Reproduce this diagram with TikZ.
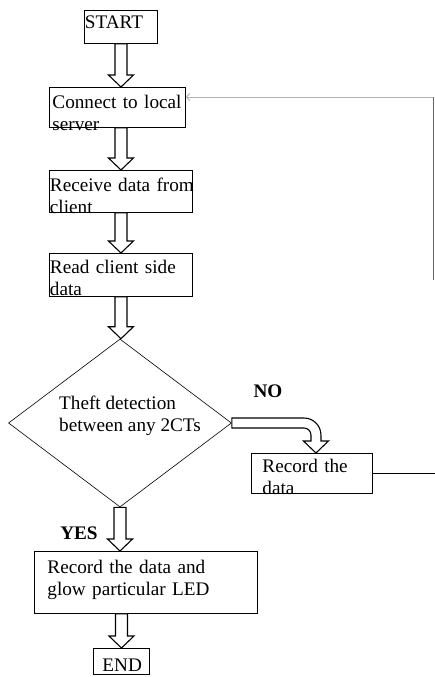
\documentclass[tikz,border=0pt]{standalone}
\usepackage{fontspec}
\setmainfont{Liberation Serif}
\usetikzlibrary{calc, shapes.geometric, arrows.meta}

\tikzset{
  box/.style={draw, line width=0.9pt, anchor=north west, inner ysep=0pt, align=left, font=\fontsize{19.2}{22}\selectfont},
  decision/.style={draw, line width=0.6pt, diamond, shape aspect=1.33, minimum width=223pt, minimum height=168pt, inner sep=0pt},
  answer/.style={font=\fontsize{19.2}{22}\selectfont\bfseries},
  blockarrow/.style={draw, line width=1.1pt, fill=white, line join=miter},
}

% hollow arrow going straight down
\newcommand{\blockdown}[2]{%
  \draw[blockarrow] let \p1=(#1), \p2=(#2) in
    (\x1-6pt,\y1) -- (\x1-6pt,\y2+12pt) -- (\x1-12.5pt,\y2+12pt) -- (\x1,\y2)
    -- (\x1+12.5pt,\y2+12pt) -- (\x1+6pt,\y2+12pt) -- (\x1+6pt,\y1) -- cycle;}

% hollow arrow going right, then bending down
\newcommand{\blockbend}[2]{%
  \draw[blockarrow] let \p1=(#1), \p2=(#2) in
    (\x1,\y1+5pt) -- (\x2-12pt,\y1+5pt) arc[start angle=90, end angle=0, radius=17pt]
    -- (\x2+5pt,\y2+12pt) -- (\x2+12.5pt,\y2+12pt) -- (\x2,\y2)
    -- (\x2-12.5pt,\y2+12pt) -- (\x2-5pt,\y2+12pt) -- (\x2-5pt,\y1-12pt)
    arc[start angle=0, end angle=90, radius=7pt] -- (\x1,\y1-5pt) -- cycle;}

\begin{document}
\begin{tikzpicture}[x=1pt, y=-1pt]
    \useasboundingbox (0,0) rectangle (435,677);

    % Draw the boxes
    \node[box, text width=72pt, inner xsep=0.5pt, text height=18pt, text depth=15pt] (start) at (84,10) {START};
    \node[box, text width=130pt, inner xsep=3pt, text height=21pt, text depth=19pt] (connect) at (49,87) {Connect to local\\server};
    \node[box, text width=142pt, inner xsep=0.5pt, text height=21pt, text depth=21pt] (receive) at (49,170) {\mbox{Receive data from}\\client};
    \node[box, text width=142pt, inner xsep=0.5pt, text height=20pt, text depth=23pt] (read) at (49,253) {Read client side\\data};

    \node[decision, label={[name=dectext, align=left, font=\fontsize{19.2}{22}\selectfont, xshift=10pt, yshift=7pt]center:{Theft detection\\between any 2CTs}}] (dec) at (120,423) {};

    \node[box, text width=99pt, inner xsep=11pt, text height=19pt, text depth=21pt] (rec) at (251,453) {Record the\\data};
    \node[box, text width=197pt, inner xsep=13pt, text height=22pt, text depth=40pt] (led) at (34,551) {Record the data and\\glow particular LED};
    \node[box, text width=38pt, inner xsep=9pt, text height=23pt, text depth=3pt] (fin) at (93,648) {END};

    \node[answer] (no) at (268,391) {NO};
    \node[answer] (yes) at (79,533) {YES};

    % Draw the hollow arrows between the boxes
    \blockdown{start.south}{connect.north};
    \blockdown{connect.south -| receive}{receive.north};
    \blockdown{receive.south}{read.north};
    \blockdown{read.south}{dec.north};
    \blockdown{dec.south}{led.north};
    \blockdown{led.south -| fin}{fin.north};
    \blockbend{dec.east}{[xshift=4pt]rec.north};

    % Draw the line back to the server box
    \coordinate (edge) at (435,473);
    \coordinate (looptop) at (433,97);
    \coordinate (loopbot) at (433,280);
    \draw[line width=1pt] (rec.east) -- (rec.east -| edge);
    \draw[line width=1pt, black!60] (loopbot) -- (looptop);
    \draw[line width=1pt, black!30, -{Straight Barb[length=3pt, width=7pt]}] (looptop) -- (looptop -| connect.east);

\end{tikzpicture}
\end{document}
